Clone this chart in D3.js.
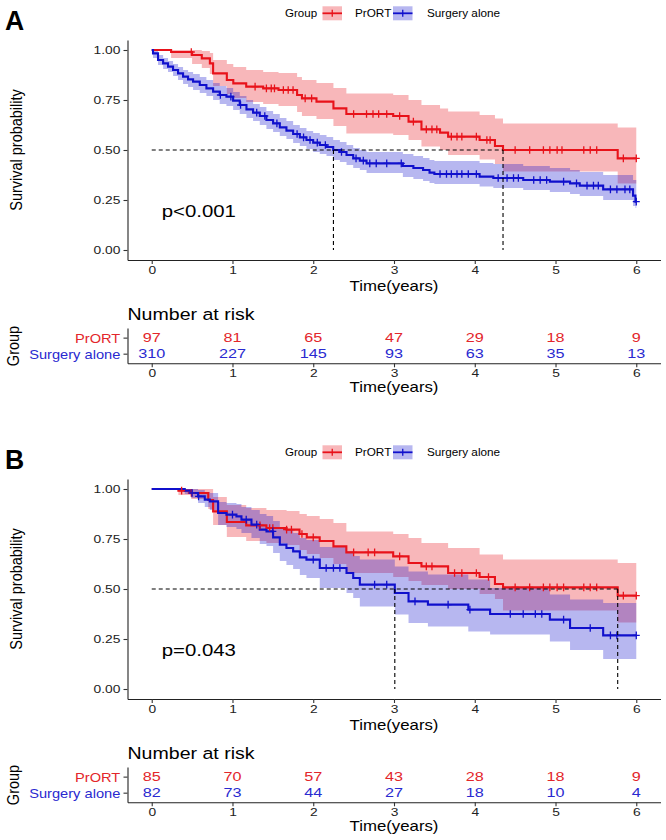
<!DOCTYPE html>
<html><head><meta charset="utf-8">
<script src="https://cdn.jsdelivr.net/npm/d3@7"></script>
<style>body{margin:0;background:#fff}</style>
</head><body><svg id="c" width="666" height="840"></svg>
<script>
// ---------------- DATA ----------------
const groups = ["PrORT", "Surgery alone"];
const tickYears = [0, 1, 2, 3, 4, 5, 6];
const survTicks = [0, 0.25, 0.5, 0.75, 1];
const survTickLabels = ["0.00", "0.25", "0.50", "0.75", "1.00"];

// Panel A – PrORT
const A_prort_t  = [0,0.24,0.50,0.62,0.72,0.76,0.93,1.01,1.17,1.38,1.57,1.80,1.86,2.04,2.25,2.41,2.99,3.18,3.34,3.57,3.67,4.06,4.25,4.35,5.77];
const A_prort_s  = [1,0.99,0.975,0.958,0.933,0.883,0.85,0.833,0.817,0.808,0.80,0.775,0.758,0.742,0.708,0.68,0.67,0.642,0.603,0.587,0.567,0.55,0.52,0.50,0.458];
const A_prort_lo = [1,0.96,0.93,0.91,0.88,0.82,0.78,0.76,0.74,0.73,0.72,0.69,0.67,0.655,0.62,0.583,0.575,0.55,0.517,0.50,0.475,0.453,0.43,0.392,0.333];
const A_prort_hi = [1,1,1,0.995,0.985,0.95,0.93,0.915,0.90,0.89,0.885,0.865,0.85,0.835,0.81,0.783,0.775,0.75,0.725,0.708,0.692,0.675,0.658,0.633,0.613];
const A_prort_cens = [0.49,1.28,1.42,1.48,1.52,1.63,1.69,1.75,1.90,1.98,2.50,2.66,2.74,2.81,2.91,3.07,3.24,3.40,3.47,3.53,3.71,3.78,3.84,4.02,4.15,4.19,4.50,4.68,4.85,4.93,5.02,5.08,5.35,5.43,5.51,5.84,6.0];

// Panel A – Surgery alone
const A_surg_t  = [0,0.016,0.078,0.141,0.202,0.264,0.326,0.388,0.45,0.512,0.595,0.677,0.76,0.842,0.925,1.008,1.09,1.173,1.255,1.338,1.42,1.503,1.586,1.668,1.751,1.834,1.916,1.999,2.081,2.164,2.247,2.33,2.412,2.495,2.577,2.66,3.11,3.24,3.36,3.44,3.50,4.06,4.23,4.60,4.93,5.18,5.30,5.59,5.96,5.99];
const A_surg_s  = [1,0.983,0.95,0.933,0.917,0.90,0.883,0.867,0.853,0.842,0.825,0.808,0.792,0.775,0.767,0.747,0.725,0.703,0.687,0.67,0.65,0.633,0.613,0.597,0.58,0.563,0.55,0.537,0.525,0.515,0.50,0.49,0.475,0.458,0.447,0.433,0.42,0.41,0.40,0.387,0.38,0.367,0.36,0.35,0.342,0.333,0.322,0.303,0.272,0.242];
const A_surg_lo = [1,0.96,0.925,0.905,0.89,0.87,0.85,0.83,0.815,0.80,0.785,0.77,0.75,0.73,0.72,0.70,0.68,0.66,0.645,0.625,0.605,0.59,0.57,0.555,0.535,0.52,0.505,0.49,0.48,0.47,0.45,0.44,0.425,0.41,0.40,0.385,0.365,0.355,0.345,0.335,0.33,0.317,0.31,0.30,0.29,0.28,0.27,0.25,0.22,0.21];
const A_surg_hi = [1,1,0.975,0.96,0.945,0.93,0.915,0.90,0.89,0.88,0.865,0.85,0.835,0.82,0.81,0.79,0.77,0.75,0.73,0.715,0.695,0.68,0.66,0.645,0.625,0.61,0.595,0.585,0.575,0.565,0.55,0.54,0.525,0.51,0.50,0.49,0.48,0.47,0.46,0.45,0.445,0.435,0.43,0.42,0.41,0.40,0.39,0.375,0.35,0.35];
const A_surg_cens = [0.85,0.98,1.10,1.30,1.40,1.55,1.80,1.88,1.96,2.05,2.15,2.35,2.53,2.62,2.70,2.78,2.91,3.09,3.57,3.65,3.71,3.78,3.84,3.92,4.02,4.29,4.40,4.48,4.54,4.73,4.81,4.89,5.10,5.26,5.39,5.47,5.53,5.68,5.76,5.86,5.92,6.0];

// Panel B – PrORT
const B_prort_t  = [0,0.33,0.49,0.70,0.76,0.93,1.17,1.42,1.67,1.83,1.92,2.08,2.25,2.41,2.99,3.18,3.34,3.67,4.06,4.25,4.35,5.77];
const B_prort_s  = [1,0.992,0.98,0.945,0.888,0.835,0.818,0.805,0.797,0.775,0.758,0.74,0.713,0.683,0.663,0.63,0.613,0.58,0.56,0.525,0.508,0.467];
const B_prort_lo = [1,0.97,0.95,0.90,0.82,0.76,0.74,0.73,0.72,0.695,0.675,0.655,0.625,0.58,0.56,0.54,0.52,0.50,0.475,0.45,0.392,0.333];
const B_prort_hi = [1,1,1,1,0.96,0.92,0.905,0.895,0.89,0.875,0.865,0.85,0.83,0.788,0.775,0.755,0.73,0.705,0.672,0.672,0.647,0.63];
const B_prort_cens = [0.37,0.49,1.34,1.46,1.50,1.67,1.73,1.86,2.00,2.50,2.68,2.76,3.07,3.40,3.47,3.75,3.84,4.02,4.17,4.50,4.68,4.85,4.93,5.02,5.10,5.35,5.43,5.51,5.84,6.0];

// Panel B – Surgery alone
const B_surg_t  = [0,0.409,0.491,0.574,0.657,0.719,0.822,0.925,1.049,1.111,1.235,1.338,1.421,1.503,1.586,1.668,1.751,1.834,1.916,2.081,2.412,2.495,2.577,3.01,3.18,3.42,3.92,4.19,4.93,5.18,5.59];
const B_surg_s  = [1,0.992,0.98,0.963,0.947,0.938,0.88,0.872,0.863,0.847,0.822,0.797,0.788,0.758,0.722,0.705,0.688,0.658,0.647,0.605,0.58,0.555,0.522,0.48,0.438,0.422,0.397,0.375,0.347,0.305,0.268];
const B_surg_lo = [1,0.975,0.955,0.93,0.91,0.895,0.82,0.81,0.80,0.78,0.755,0.725,0.715,0.68,0.64,0.62,0.60,0.57,0.555,0.505,0.48,0.455,0.413,0.372,0.33,0.313,0.288,0.272,0.238,0.195,0.15];
const B_surg_hi = [1,1,1,0.995,0.985,0.98,0.935,0.93,0.925,0.91,0.895,0.875,0.865,0.84,0.81,0.795,0.78,0.755,0.745,0.71,0.69,0.665,0.647,0.613,0.588,0.572,0.547,0.505,0.472,0.447,0.43];
const B_surg_cens = [0.50,0.58,1.00,1.17,1.30,1.50,2.00,2.16,2.25,2.33,2.76,2.91,3.26,3.67,3.94,4.44,4.60,4.75,4.83,5.10,5.43,5.68,5.76,6.0];

// Median survival times (Surgery alone, PrORT)
const A_medians = [2.25, 4.35];
const B_medians = [3.01, 5.77];

// Number at risk
const A_risk_prort = [97, 81, 65, 47, 29, 18, 9];
const A_risk_surg  = [310, 227, 145, 93, 63, 35, 13];
const B_risk_prort = [85, 70, 57, 43, 28, 18, 9];
const B_risk_surg  = [82, 73, 44, 27, 18, 10, 4];

const A_pval = "p<0.001";
const B_pval = "p=0.043";

// ---------------- STYLE ----------------
const SX = 1.2;
const FONT = '"Liberation Sans", Arial, Helvetica, sans-serif';
const RED = "#e8121a", BLUE = "#1010cc";
const RED_TXT = "#e3262b", BLUE_TXT = "#2a2ad0";
const END_T = 6.0;

const svg = d3.select("#c");
svg.append("rect").attr("width", 666).attr("height", 840).attr("fill", "#fff");

function T(g, x, y, s, o = {}) {
  const sx = o.sx ?? SX;
  return g.append("text")
    .attr("transform", `translate(${x},${y}) scale(${sx},1)${o.rot ? " rotate(" + o.rot + ")" : ""}`)
    .attr("text-anchor", o.anchor || "start")
    .attr("font-family", FONT)
    .attr("font-size", o.size || 12)
    .attr("font-weight", o.weight || "normal")
    .attr("fill", o.fill || "#000")
    .text(s);
}

function styleAxis(ag) {
  ag.selectAll(".domain").attr("stroke", "#222").attr("stroke-width", 1.1);
  ag.selectAll(".tick line").attr("stroke", "#333").attr("stroke-width", 1.1);
  ag.selectAll(".tick text")
    .attr("font-family", FONT).attr("font-size", 11.5).attr("fill", "#222")
    .attr("transform", `scale(${SX},1)`);
}

function stepVal(ts, ss, t) {
  return ss[Math.max(0, d3.bisectRight(ts, t) - 1)];
}

function panel(oy, letter, cur, medians, pval, riskP, riskS) {
  const g = svg.append("g").attr("transform", `translate(0,${oy})`);
  const x = d3.scaleLinear().domain([-0.3, 6.3]).range([127.5, 660.5]);
  const y = d3.scaleLinear().domain([-0.05, 1.05]).range([260, 40]);

  // letter
  T(g, 5, 29.5, letter, { size: 28, weight: "bold", sx: 0.95 });

  // legend
  T(g, 285, 17, "Group", { size: 10.5, sx: 1.1 });
  const keys = [{ x: 322.5, c: RED, lab: "PrORT", lx: 355 }, { x: 393, c: BLUE, lab: "Surgery alone", lx: 427 }];
  keys.forEach(k => {
    g.append("rect").attr("x", k.x).attr("y", 6.3).attr("width", 19.5).attr("height", 14)
      .attr("fill", k.c).attr("fill-opacity", 0.3);
    g.append("line").attr("x1", k.x).attr("x2", k.x + 19.5).attr("y1", 13.3).attr("y2", 13.3)
      .attr("stroke", k.c).attr("stroke-width", 1.8);
    g.append("line").attr("x1", k.x + 9.75).attr("x2", k.x + 9.75).attr("y1", 9.8).attr("y2", 16.8)
      .attr("stroke", k.c).attr("stroke-width", 1.3);
    T(g, k.lx, 17, k.lab, { size: 10.5, sx: 1.12 });
  });

  // ribbons and curves
  const area = d3.area().x(d => x(d.t)).y0(d => y(d.lo)).y1(d => y(d.hi)).curve(d3.curveStepAfter);
  const line = d3.line().x(d => x(d.t)).y(d => y(d.s)).curve(d3.curveStepAfter);
  const mk = c => {
    const pts = c.t.map((t, i) => ({ t, s: c.s[i], lo: c.lo[i], hi: c.hi[i] }));
    const last = pts[pts.length - 1];
    pts.push({ t: END_T, s: last.s, lo: last.lo, hi: last.hi });
    return pts;
  };
  cur.forEach(c => {
    g.append("path").attr("d", area(mk(c))).attr("fill", c.col).attr("fill-opacity", 0.3).attr("stroke", "none");
  });
  cur.forEach(c => {
    g.append("path").attr("d", line(mk(c))).attr("fill", "none").attr("stroke", c.col).attr("stroke-width", 2.1);
  });
  cur.forEach(c => {
    const p = d3.path();
    c.cens.forEach(t => {
      const cx = x(t), cy = y(stepVal(c.t, c.s, t));
      p.moveTo(cx - 3.5, cy); p.lineTo(cx + 3.5, cy);
      p.moveTo(cx, cy - 3.8); p.lineTo(cx, cy + 3.8);
    });
    g.append("path").attr("d", p.toString()).attr("stroke", c.col).attr("stroke-width", 1.3).attr("fill", "none");
  });

  // median dashed lines
  const mx = d3.max(medians);
  const dash = g.append("g").attr("stroke", "#000").attr("stroke-width", 1.1).attr("stroke-dasharray", "4,3").attr("fill", "none");
  dash.append("line").attr("x1", x(0)).attr("x2", x(mx)).attr("y1", y(0.5)).attr("y2", y(0.5));
  medians.forEach(m => dash.append("line").attr("x1", x(m)).attr("x2", x(m)).attr("y1", y(0.5)).attr("y2", y(0)));

  // axes
  const ya = g.append("g").attr("transform", "translate(127.5,0)")
    .call(d3.axisLeft(y).tickValues(survTicks).tickFormat((d, i) => survTickLabels[i]).tickSize(4).tickSizeOuter(0).tickPadding(2));
  styleAxis(ya);
  const xa = g.append("g").attr("transform", "translate(0,260)")
    .call(d3.axisBottom(x).tickValues(tickYears).tickFormat(d3.format("d")).tickSize(4).tickSizeOuter(0).tickPadding(2));
  styleAxis(xa);

  T(g, 22, 150, "Survival probability", { size: 14.5, rot: -90, anchor: "middle" });
  T(g, 394, 290.5, "Time(years)", { size: 14, anchor: "middle" });
  T(g, 161.7, 216.7, pval, { size: 17 });

  // risk table
  T(g, 127.5, 320, "Number at risk", { size: 16.3 });
  const yr = d3.scalePoint().domain(groups).range([328, 363.3]).padding(0.6);
  const ra = g.append("g").attr("transform", "translate(127.5,0)")
    .call(d3.axisLeft(yr).tickSize(4).tickSizeOuter(0).tickPadding(2));
  styleAxis(ra);
  ra.selectAll(".tick text").attr("font-size", 12.2).attr("dy", "0.36em")
    .attr("fill", (d, i) => i === 0 ? RED_TXT : BLUE_TXT);
  const rxa = g.append("g").attr("transform", "translate(0,363.3)")
    .call(d3.axisBottom(x).tickValues(tickYears).tickFormat(d3.format("d")).tickSize(4).tickSizeOuter(0).tickPadding(2));
  styleAxis(rxa);
  [[riskP, groups[0], RED_TXT], [riskS, groups[1], BLUE_TXT]].forEach(([vals, grp, col]) => {
    vals.forEach((v, i) => T(g, x(tickYears[i]), yr(grp) + 4.8, String(v), { size: 13.5, anchor: "middle", fill: col }));
  });
  T(g, 394, 392, "Time(years)", { size: 14, anchor: "middle" });
  T(g, 19, 346, "Group", { size: 14.5, rot: -90, anchor: "middle" });
}

panel(0, "A", [
  { t: A_prort_t, s: A_prort_s, lo: A_prort_lo, hi: A_prort_hi, cens: A_prort_cens, col: RED },
  { t: A_surg_t, s: A_surg_s, lo: A_surg_lo, hi: A_surg_hi, cens: A_surg_cens, col: BLUE }
], A_medians, A_pval, A_risk_prort, A_risk_surg);

panel(439, "B", [
  { t: B_prort_t, s: B_prort_s, lo: B_prort_lo, hi: B_prort_hi, cens: B_prort_cens, col: RED },
  { t: B_surg_t, s: B_surg_s, lo: B_surg_lo, hi: B_surg_hi, cens: B_surg_cens, col: BLUE }
], B_medians, B_pval, B_risk_prort, B_risk_surg);
</script>
</body></html>
